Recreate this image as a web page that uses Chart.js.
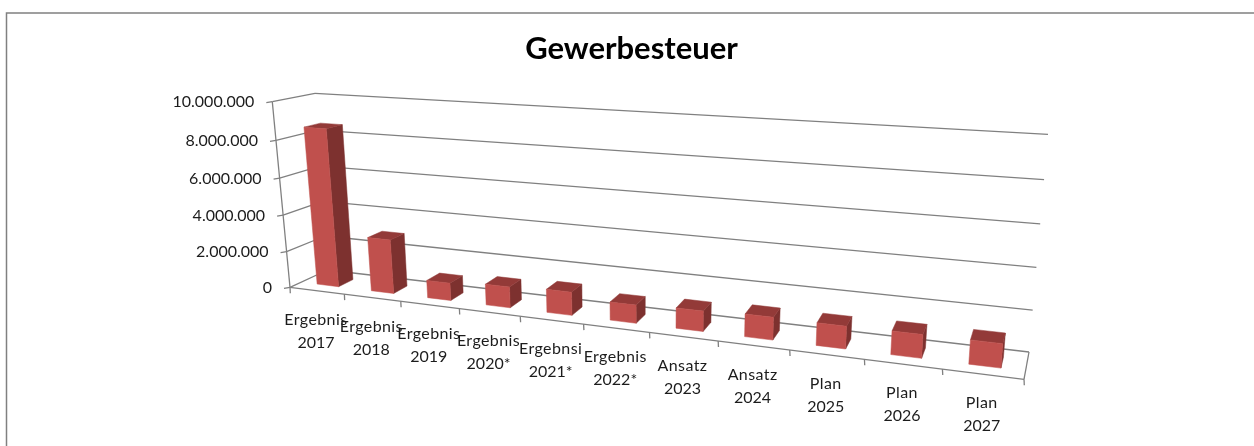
<!DOCTYPE html>
<html lang="de">
<head>
<meta charset="utf-8">
<title>Gewerbesteuer</title>
<style>html,body{margin:0;padding:0;background:#fff}canvas{display:block}</style>
<script src="https://cdn.jsdelivr.net/npm/chart.js@4"></script>
</head>
<body>
<canvas id="c" width="1254" height="446"></canvas>
<script>
const chartTitle = 'Gewerbesteuer';
const categories = [
  ['Ergebnis','2017'],['Ergebnis','2018'],['Ergebnis','2019'],['Ergebnis','2020*'],
  ['Ergebnsi','2021*'],['Ergebnis','2022*'],['Ansatz','2023'],['Ansatz','2024'],
  ['Plan','2025'],['Plan','2026'],['Plan','2027']
];
const values = [8600000,2950000,950000,1120000,1230000,950000,1050000,1150000,1130000,1160000,1170000];
const yMin = 0, yMax = 10000000, yStep = 2000000;

const FRONT='#C0504D', SIDE='#7D312F', TOP='#933A38', LINE='#808080', TEXT='#1c1c1c';
const FONT='Lato, Carlito, sans-serif';

// Perspective box of the Excel-style 3D view: [u along categories, v up, w into depth]
const box = {
  fbl:[290,287.3], fbr:[1024,379.3], bbl:[327.5,270], bbr:[1029,352],
  ftl:[272.3,101.7], ftr:[1040.5,159.3], btl:[315,93.3], btr:[1048,134.3]
};
const warp=(t,k)=>t/(k*(1-t)+t);
const mix=(a,b,t)=>[a[0]+(b[0]-a[0])*t,a[1]+(b[1]-a[1])*t];
function proj(u,v,w){
  const tu=warp(u,1.25), tv=warp(v,1.05);
  const fb=mix(box.fbl,box.fbr,tu), bb=mix(box.bbl,box.bbr,tu),
        ft=mix(box.ftl,box.ftr,tu), bt=mix(box.btl,box.btr,tu);
  return mix(mix(fb,bb,w),mix(ft,bt,w),tv);
}
function poly(ctx,pts,col){
  ctx.beginPath();pts.forEach((p,i)=>i?ctx.lineTo(p[0],p[1]):ctx.moveTo(p[0],p[1]));ctx.closePath();
  ctx.fillStyle=col;ctx.strokeStyle=col;ctx.lineWidth=.5;ctx.fill();ctx.stroke();
}
function seg(ctx,a,b){ctx.beginPath();ctx.moveTo(a[0],a[1]);ctx.lineTo(b[0],b[1]);ctx.stroke();}

const plugin3d={
  id:'plugin3d',
  beforeDraw(chart){
    const ctx=chart.ctx;ctx.save();
    ctx.strokeStyle=LINE;ctx.lineWidth=1.5;
    ctx.beginPath();ctx.moveTo(6.5,446);ctx.lineTo(6.5,13);ctx.lineTo(1254,13);ctx.stroke();
    ctx.restore();
  },
  beforeDatasetsDraw(chart){
    const ctx=chart.ctx, ys=chart.scales.y, xs=chart.scales.x;
    const vOf=val=>(val-yMin)/(yMax-yMin);
    ctx.save();ctx.strokeStyle=LINE;ctx.lineWidth=1.3;
    // walls, y ticks and y labels
    ctx.font='16px '+FONT;ctx.fillStyle=TEXT;ctx.textAlign='right';ctx.textBaseline='middle';
    ys.ticks.forEach(t=>{
      const v=vOf(t.value);
      const a=proj(0,v,0), b=proj(0,v,1), c=proj(1,v,1);
      seg(ctx,a,b);seg(ctx,b,c);
      seg(ctx,a,[a[0]-6,a[1]+1]);
      ctx.fillText(t.label,a[0]-18,a[1]+.5);
    });
    seg(ctx,proj(0,0,0),proj(0,1,0));
    // floor
    seg(ctx,proj(0,0,0),proj(1,0,0));
    seg(ctx,proj(1,0,0),proj(1,0,1));
    // x ticks and labels
    const n=categories.length;
    for(let i=0;i<=n;i++){
      const p=proj(i/n,0,0);
      seg(ctx,p,[p[0]+.3,p[1]+6]);
    }
    ctx.textAlign='center';
    xs.getLabels().forEach((lab,i)=>{
      const p=proj((i+.5)/n,0,0);
      lab.forEach((s,j)=>{
        ctx.letterSpacing=j===0?'0.4px':'0px';
        ctx.fillText(s,p[0]-1,p[1]+29+j*23);
      });
    });
    ctx.letterSpacing='0px';
    ctx.restore();
  },
  beforeDatasetDraw(chart,args){
    const ctx=chart.ctx,a=chart.chartArea,W=a.right-a.left,H=a.bottom-a.top;
    const w0=.3,w1=.7;
    ctx.save();
    args.meta.data.forEach(el=>{
      const p=el.getProps(['x','y','base','width'],true);
      const u0=(p.x-p.width/2-a.left)/W,u1=(p.x+p.width/2-a.left)/W;
      const v0=(a.bottom-p.base)/H,v1=(a.bottom-p.y)/H;
      poly(ctx,[proj(u1,v0,w0),proj(u1,v0,w1),proj(u1,v1,w1),proj(u1,v1,w0)],SIDE);
      poly(ctx,[proj(u0,v1,w0),proj(u1,v1,w0),proj(u1,v1,w1),proj(u0,v1,w1)],TOP);
      poly(ctx,[proj(u0,v0,w0),proj(u1,v0,w0),proj(u1,v1,w0),proj(u0,v1,w0)],FRONT);
    });
    ctx.restore();
    return false;
  }
};

new Chart(document.getElementById('c'),{
  type:'bar',
  data:{labels:categories,datasets:[{label:chartTitle,data:values,backgroundColor:FRONT,
    barPercentage:.4,categoryPercentage:1}]},
  options:{
    responsive:false,animation:false,devicePixelRatio:1,
    layout:{padding:{left:239,right:230,top:0,bottom:158.7}},
    plugins:{
      legend:{display:false},tooltip:{enabled:false},
      title:{display:true,text:chartTitle,fullSize:false,color:'#000',
        font:{family:FONT,size:31,weight:'bold'},padding:{top:30,bottom:34.5}}
    },
    scales:{
      x:{display:false,type:'category'},
      y:{display:false,min:yMin,max:yMax,ticks:{stepSize:yStep,
        callback:v=>String(v).replace(/\B(?=(\d{3})+$)/g,'.')}}
    }
  },
  plugins:[plugin3d]
});
</script>
</body>
</html>
